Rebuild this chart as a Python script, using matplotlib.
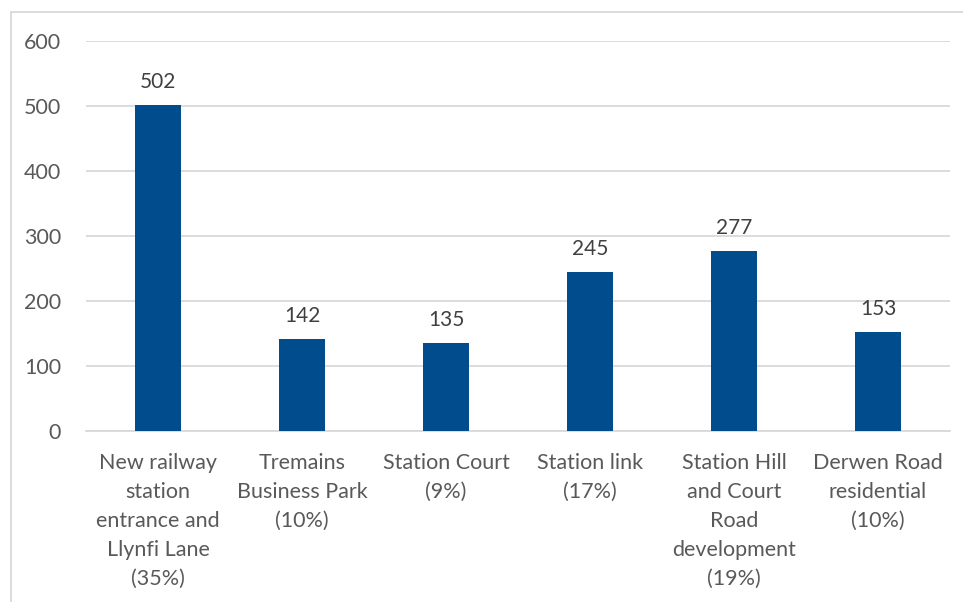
import matplotlib.pyplot as plt
from matplotlib.patches import Rectangle

categories = [
    "New railway\nstation\nentrance and\nLlynfi Lane\n(35%)",
    "Tremains\nBusiness Park\n(10%)",
    "Station Court\n(9%)",
    "Station link\n(17%)",
    "Station Hill\nand Court\nRoad\ndevelopment\n(19%)",
    "Derwen Road\nresidential\n(10%)",
]
values = [502, 142, 135, 245, 277, 153]
yticks = [0, 100, 200, 300, 400, 500, 600]

plt.rcParams['font.family'] = ['Lato', 'DejaVu Sans']

fig = plt.figure(figsize=(9.63, 6.02), dpi=100)
ax = fig.add_axes([86 / 963, 1 - 431 / 602, 864 / 963, 390 / 602])

x = list(range(len(values)))
bars = ax.bar(x, values, width=0.32, color='#004C8C', zorder=3)
for xi, v in zip(x, values):
    ax.text(xi, v + 20, str(v), ha='center', va='bottom', fontsize=15, color='#404040')

ax.set_xlim(-0.5, len(values) - 0.5)
ax.set_ylim(0, 600)
ax.set_yticks(yticks)
ax.set_xticks(x)
ax.set_xticklabels(categories, fontsize=15.5, color='#595959', linespacing=1.56)
ax.tick_params(axis='y', labelsize=15.5, labelcolor='#595959', length=0, pad=18)
ax.tick_params(axis='x', length=0, pad=16)
ax.grid(axis='y', color='#D9D9D9', linewidth=1.3, zorder=0)
for s in ['top', 'right', 'left']:
    ax.spines[s].set_visible(False)
ax.spines['bottom'].set_color('#D9D9D9')
ax.spines['bottom'].set_linewidth(1.3)

# outer chart frame, cut off at right and bottom
fig.patches.append(Rectangle((11 / 963, -0.1), 1.2, 1 - 12 / 602 + 0.1,
                             transform=fig.transFigure, fill=False,
                             edgecolor='#D9D9D9', linewidth=1.3))

fig.savefig('out.png', dpi=100)
